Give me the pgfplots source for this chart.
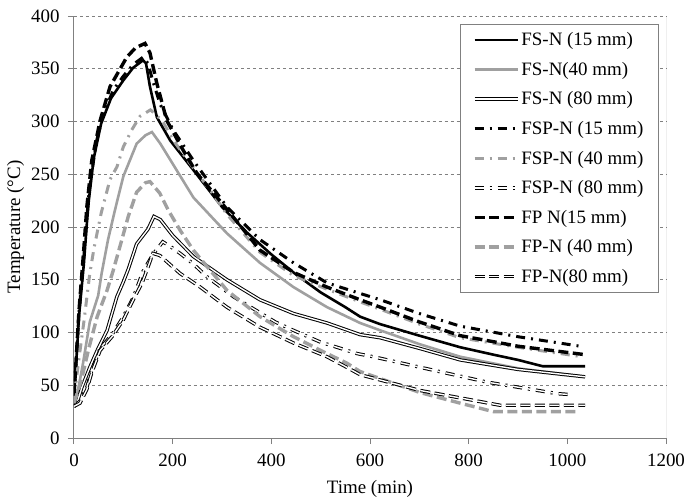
\documentclass[border=0pt]{standalone}
\usepackage{fontspec}
\setmainfont{Liberation Serif}
\usepackage{pgfplots}
\pgfplotsset{compat=1.18}
\definecolor{mygray}{RGB}{160,160,160}
\definecolor{axgray}{RGB}{128,128,128}
\begin{document}
\begin{tikzpicture}[font=\fontsize{19}{22}\selectfont]
\begin{axis}[
  scale only axis, width=592bp, height=422bp,
  xmin=0, xmax=1200, ymin=0, ymax=400,
  xtick={0,200,...,1200}, ytick={0,50,...,400},
  axis x line*=bottom, axis y line*=left,
  axis line style={axgray, line width=1bp},
  tick style={axgray, line width=1bp},
  tick align=outside, major tick length=6bp,
  ymajorgrids, grid style={axgray, dashed, line width=0.9bp},
  /pgf/number format/assume math mode=true,
  /pgf/number format/set thousands separator={},
  tick label style={font=\fontsize{19}{22}\selectfont},
  xticklabel style={yshift=-6bp},
  yticklabel style={xshift=-5bp},
  xlabel={Time (min)}, ylabel={Temperature (°C)},
  xlabel style={yshift=-7bp},
  label style={font=\fontsize{19}{22}\selectfont},
  legend style={at={(0.988,0.981)}, anchor=north east, draw=axgray, line width=1bp,
    font=\fontsize{19}{22}\selectfont, row sep=11bp, inner xsep=13bp, inner ysep=6bp},
  legend cell align=left,
  legend image code/.code={\draw[#1] (0bp,0bp) -- (43bp,0bp);},
]
\addplot[black, line width=2.6bp] coordinates {(0,40) (5,75) (10,115) (20,165) (26,203) (30,225) (40,265) (55,298) (75,322) (100,339) (120,351) (140,358) (146,355) (154,333) (168,304) (195,282) (242,254) (300,219) (350,195) (400,174) (450,155) (500,138) (550,124) (580,115) (620,108) (700,97) (783,86) (850,79) (900,74) (950,68) (1000,68) (1036,68)};
\addlegendentry{FS-N (15 mm)}
\addplot[mygray, line width=2.6bp] coordinates {(0,30) (8,45) (18,70) (32,110) (49,135) (56,156) (69,188) (83,216) (100,248) (127,279) (145,287) (158,290) (175,279) (200,260) (242,228) (310,194) (377,166) (445,143) (513,124) (580,109) (621,102) (700,89) (783,77) (900,66) (1036,58)};
\addlegendentry{FS-N(40 mm)}
\addplot[black, line width=1bp, double=white, double distance=1.4bp] coordinates {(0,30) (6,33) (16,48) (32,67) (47,83) (67,102) (87,134) (100,148) (110,160) (127,184) (150,198) (162,210) (175,207) (200,192) (242,172) (310,150) (377,131) (445,118) (513,109) (580,98) (621,95) (700,85) (783,74) (900,65) (1036,58)};
\addlegendentry{FS-N (80 mm)}
\addplot[black, line width=3bp, dash pattern=on 9bp off 6bp on 2bp off 6bp] coordinates {(0,40) (10,118) (20,172) (30,232) (45,280) (60,308) (80,330) (100,343) (120,354) (140,361) (150,355) (160,338) (175,316) (201,292) (242,263) (310,219) (377,188) (445,166) (513,147) (580,137) (621,131) (700,118) (783,106) (900,96) (1026,87)};
\addlegendentry{FSP-N (15 mm)}
\addplot[mygray, line width=3bp, dash pattern=on 9bp off 6bp on 2bp off 6bp] coordinates {(0,38) (10,75) (20,110) (32,156) (41,181) (55,213) (73,245) (87,257) (100,276) (117,292) (134,305) (155,311) (165,307) (180,300) (200,283) (242,256) (276,235) (310,212) (377,176) (445,154) (513,141) (580,129) (621,122) (700,108) (783,95) (900,86) (1030,77)};
\addlegendentry{FSP-N (40 mm)}
\addplot[black, line width=1bp, double=white, double distance=1.4bp, dash pattern=on 9bp off 6bp on 2bp off 6bp] coordinates {(0,30) (12,35) (26,48) (36,64) (53,85) (77,98) (100,115) (120,133) (140,158) (160,174) (180,186) (200,180) (215,175) (242,165) (269,153) (292,145) (323,134) (408,110) (445,102) (499,91) (574,80) (607,77) (702,67) (837,53) (980,42) (1012,41)};
\addlegendentry{FSP-N (80 mm)}
\addplot[black, line width=3.4bp, dash pattern=on 10bp off 4.5bp] coordinates {(0,40) (10,120) (20,180) (26,219) (36,263) (53,301) (73,333) (107,361) (125,370) (144,374) (154,365) (168,336) (188,301) (221,273) (249,251) (276,236) (327,207) (377,178) (445,157) (513,143) (580,131) (621,124) (700,110) (783,97) (900,87) (1036,79)};
\addlegendentry{FP N(15 mm)}
\addplot[mygray, line width=3.4bp, dash pattern=on 10bp off 4.5bp] coordinates {(0,33) (15,55) (30,85) (47,115) (67,140) (79,158) (97,188) (110,210) (127,233) (145,242) (154,243) (174,232) (191,216) (215,197) (242,178) (310,140) (377,115) (445,96) (513,80) (553,71) (580,63) (702,43) (783,33) (850,25) (1022,25)};
\addlegendentry{FP-N (40 mm)}
\addplot[black, line width=1bp, double=white, double distance=1.4bp, dash pattern=on 10bp off 4.5bp] coordinates {(0,30) (12,33) (26,46) (36,62) (53,83) (77,96) (100,112) (120,131) (138,147) (150,162) (160,175) (174,173) (215,156) (256,143) (310,124) (377,105) (445,90) (513,77) (553,67) (580,60) (702,45) (783,38) (864,31) (1036,31)};
\addlegendentry{FP-N(80 mm)}
\draw[axgray, line width=1bp] (axis cs:1200,0) -- (axis cs:1200,400);
\end{axis}
\pgfresetboundingbox
\path ([xshift=-74bp,yshift=-64bp]current axis.south west) rectangle ([xshift=20bp,yshift=16bp]current axis.north east);
\end{tikzpicture}
\end{document}
